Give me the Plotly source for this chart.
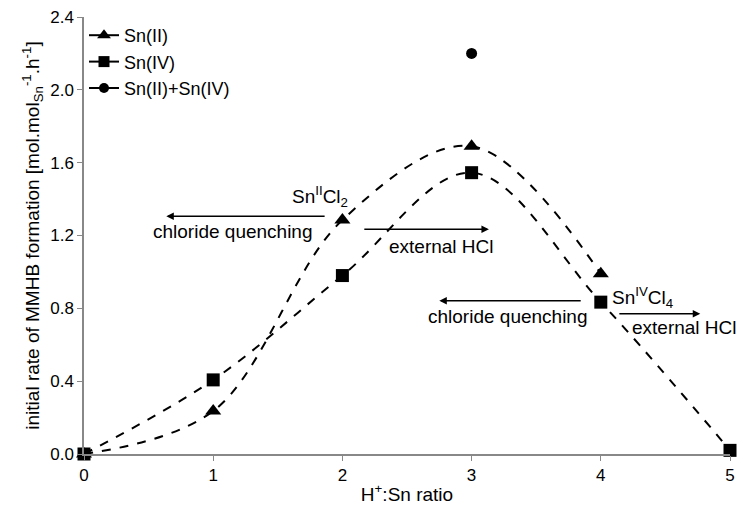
import plotly.graph_objects as go

# Data
ratio = [0, 1, 2, 3, 4, 5]
sn2_x = [0, 1, 2, 3, 4]
sn2_rate = [0.0, 0.236, 1.285, 1.69, 0.99]
sn4_x = [0, 1, 2, 3, 4, 5]
sn4_rate = [0.0, 0.407, 0.98, 1.545, 0.834, 0.02]
mix_x = [3]
mix_rate = [2.2]
x_ticks = [0, 1, 2, 3, 4, 5]
y_ticks = [0.0, 0.4, 0.8, 1.2, 1.6, 2.0, 2.4]

FONT = "Liberation Sans, Arial, sans-serif"
fig = go.Figure()

fig.add_trace(go.Scatter(
    x=sn2_x, y=sn2_rate, mode="lines+markers", showlegend=False,
    line=dict(color="black", width=2, dash="dash", shape="spline", smoothing=1),
    marker=dict(symbol="triangle-up", size=14, color="black"), cliponaxis=False))
fig.add_trace(go.Scatter(
    x=sn4_x, y=sn4_rate, mode="lines+markers", showlegend=False,
    line=dict(color="black", width=2, dash="dash", shape="spline", smoothing=1),
    marker=dict(symbol="square", size=13, color="black"), cliponaxis=False))
fig.add_trace(go.Scatter(
    x=mix_x, y=mix_rate, mode="markers", showlegend=False,
    marker=dict(symbol="circle", size=11, color="black"), cliponaxis=False))

# legend entries
for name, sym, sz in [("Sn(II)", "triangle-up", 12), ("Sn(IV)", "square", 11),
                      ("Sn(II)+Sn(IV)", "circle", 10)]:
    fig.add_trace(go.Scatter(
        x=[None], y=[None], mode="lines+markers", name=name,
        line=dict(color="black", width=2),
        marker=dict(symbol=sym, size=sz, color="black")))

anns = []
def arrow(x0, x1, y):
    anns.append(dict(x=x1, y=y, ax=x0, ay=y, xref="x", yref="y", axref="x", ayref="y",
                     text="", showarrow=True, arrowhead=2, arrowsize=1, arrowwidth=1.5,
                     arrowcolor="black"))
def label(x, y, t):
    anns.append(dict(x=x, y=y, xref="x", yref="y", text=t, showarrow=False,
                     font=dict(family=FONT, size=19, color="black")))

arrow(1.874, 0.637, 1.306)
arrow(2.158, 3.134, 1.234)
arrow(3.856, 2.750, 0.841)
arrow(4.132, 4.770, 0.770)
label(1.828, 1.414, "Sn<sup>II</sup>Cl<sub>2</sub>")
label(1.152, 1.223, "chloride quenching")
label(2.765, 1.139, "external HCl")
label(3.28, 0.754, "chloride quenching")
label(4.324, 0.858, "Sn<sup>IV</sup>Cl<sub>4</sub>")
label(4.647, 0.694, "external HCl")

fig.update_layout(
    width=743, height=510,
    margin=dict(l=84, r=8, t=17, b=53),
    paper_bgcolor="white", plot_bgcolor="white",
    font=dict(family=FONT, size=17, color="black"),
    annotations=anns,
    legend=dict(x=0.0, y=1.0, xanchor="left", yanchor="top",
                font=dict(family=FONT, size=18), bgcolor="rgba(0,0,0,0)",
                tracegroupgap=0, itemwidth=30),
    xaxis=dict(range=[0, 5], tickvals=x_ticks, ticks="outside", ticklen=5,
               tickcolor="#888", showline=True, linecolor="#888", linewidth=1.5,
               showgrid=False, zeroline=False,
               tickfont=dict(size=17),
               title=dict(text="H<sup>+</sup>:Sn ratio", font=dict(size=19), standoff=4)),
    yaxis=dict(range=[0, 2.4], tickvals=y_ticks, tickformat=".1f", ticks="outside",
               ticklen=5, tickcolor="#888", showline=True, linecolor="#888",
               linewidth=1.5, showgrid=False, zeroline=False,
               tickfont=dict(size=17),
               title=dict(text="initial rate of MMHB formation [mol.mol<sub>Sn</sub><sup>-1</sup>.h<sup>-1</sup>]",
                          font=dict(size=19), standoff=6)),
)

fig.write_html("out.html")
